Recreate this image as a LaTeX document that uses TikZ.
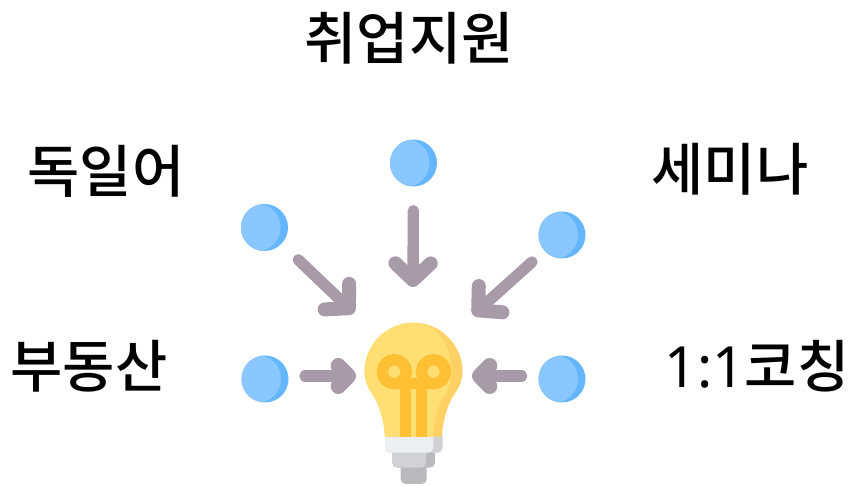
\documentclass[tikz,border=0pt]{standalone}
\usepackage{fontspec}
\setmainfont{Noto Sans CJK KR Medium}
\newfontfamily\latinfont{Noto Sans}
\usetikzlibrary{arrows.meta}
\definecolor{dotlight}{HTML}{8AC6FF}
\definecolor{dotdark}{HTML}{64B7FF}
\definecolor{arrowgrey}{HTML}{A79BA7}
\definecolor{bulblight}{HTML}{FFDF74}
\definecolor{bulbdark}{HTML}{FFD064}
\definecolor{filament}{HTML}{FFC034}
\definecolor{basewhite}{HTML}{ECEFF2}
\definecolor{basegrey}{HTML}{D1D1D6}
\definecolor{basedark}{HTML}{B9B9BE}
\tikzset{
  dot/.style={circle,inner sep=0pt,minimum size=1.41cm,fill=dotdark,
    path picture={\fill[dotlight] ([xshift=-0.24cm]path picture bounding box.center) circle (0.72cm);}},
  pointer/.style={arrowgrey,line width=0.34cm,line cap=round,
    -{Straight Barb[round,line width=0.42cm,length=0.5cm,width=1.06cm]}},
  sidepointer/.style={arrowgrey,line width=0.34cm,line cap=round,
    -{Straight Barb[round,line width=0.46cm,length=0.3cm,width=0.62cm]}},
  label/.style={font=\fontsize{48.5}{49}\selectfont,inner sep=0pt},
  wire/.style={filament,line width=0.34cm}
}
\begin{document}
\begin{tikzpicture}[x=0.03cm,y=-0.03cm]
    \useasboundingbox (0,0) rectangle (854,486);

    % Textes autour de l'ampoule
    \node[label] (job) at (409,38) {취업지원};
    \node[label] (german) at (106,171) {독일어};
    \node[label] (seminar) at (730,169) {세미나};
    \node[label] (estate) at (89,366) {부동산};
    \node[label] (coaching) at (757,366) {{\latinfont 1:1}코칭};

    % Cercles bleus
    \node[dot] (dotN) at (413.5,163) {};
    \node[dot] (dotNW) at (264.5,227.5) {};
    \node[dot] (dotNE) at (562,235) {};
    \node[dot] (dotW) at (265,379) {};
    \node[dot] (dotE) at (562,379) {};

    % Pointes des flèches
    \coordinate (tipN) at (413,287);
    \coordinate (tipNW) at (354,313);
    \coordinate (tipNE) at (473,315);
    \coordinate (tipW) at (356,376);
    \coordinate (tipE) at (472,376);

    % Flèches vers l'ampoule
    \draw[pointer,shorten <=0.72cm] (dotN) -- (tipN);
    \draw[pointer,shorten <=0.69cm] (dotNW) -- (tipNW);
    \draw[pointer,shorten <=0.5cm] (dotNE) -- (tipNE);
    \draw[sidepointer,shorten <=1.2cm] (dotW |- tipW) -- (tipW);
    \draw[sidepointer,shorten <=1.21cm] (dotE |- tipE) -- (tipE);

    % Culot
    \fill[basedark,rounded corners=0.15cm] (400.7,462) rectangle (426.7,484);
    \fill[basedark,rounded corners=0.15cm] (392.3,445) rectangle (435,467.7);
    \fill[basegrey,rounded corners=0.15cm] (392.3,445) rectangle (426,467.7);
    \fill[basegrey,rounded corners=0.15cm] (385,430) rectangle (442.7,452.7);
    \fill[basewhite,rounded corners=0.15cm] (385,430) rectangle (433.3,452.7);

    % Ampoule
    \fill[bulbdark] (385,436.7) .. controls (384,420) and (379,403) .. (371.7,393.3)
      .. controls (367,386) and (364.5,380) .. (364.5,371.7)
      .. controls (364.5,344.7) and (386.5,322.7) .. (413.5,322.7)
      .. controls (440.5,322.7) and (462.5,344.7) .. (462.5,371.7)
      .. controls (462.5,380) and (460,386) .. (455,393.3)
      .. controls (448,403) and (443,420) .. (441.7,436.7) -- cycle;
    \fill[bulblight] (385,436.7) .. controls (384,420) and (379,403) .. (371.7,393.3)
      .. controls (367,386) and (364.5,380) .. (364.5,371.7)
      .. controls (364.5,344.7) and (386.5,322.7) .. (413.5,322.7)
      .. controls (436,322.7) and (451.7,344.7) .. (451.7,371.7)
      .. controls (451.7,382) and (449,390) .. (444,396)
      .. controls (438,405) and (434,420) .. (433.3,436.7) -- cycle;

    % Filament
    \draw[wire] (394.3,371.7) circle (12);
    \draw[wire] (433.5,371.7) circle (12);
    \draw[wire] (394.3,383.7) -- (433.5,383.7);
    \draw[wire] (405.2,383) -- (405.2,436.7);
    \draw[wire] (421.8,383) -- (421.8,436.7);
\end{tikzpicture}
\end{document}
